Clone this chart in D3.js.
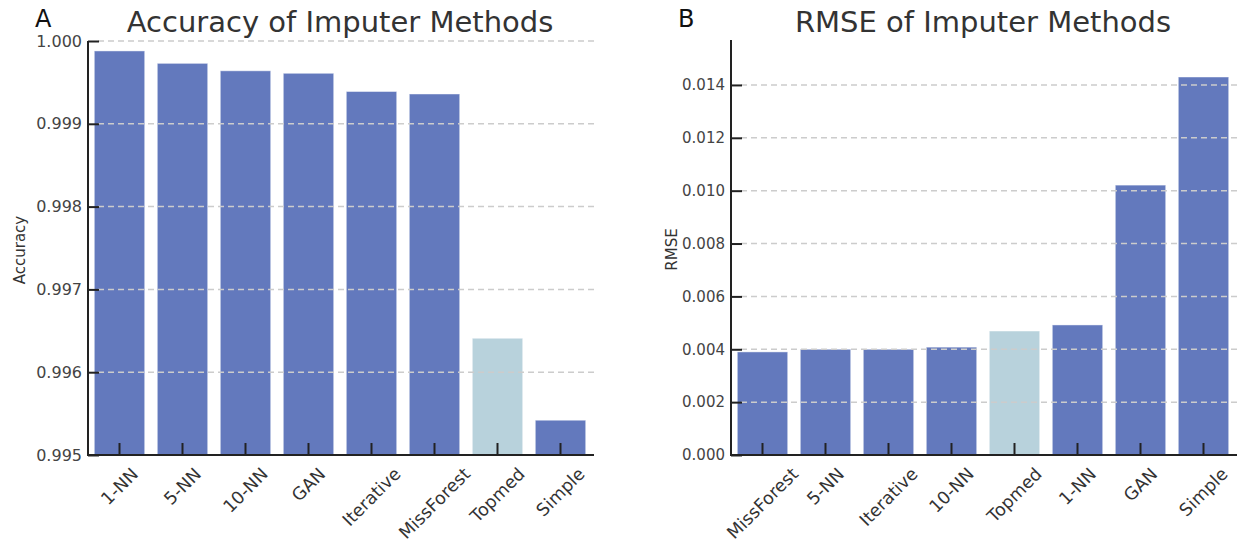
<!DOCTYPE html>
<html><head><meta charset="utf-8">
<script src="https://cdn.jsdelivr.net/npm/d3@7"></script>
<style>
body{margin:0;background:#fff;}
svg{display:block;font-family:"DejaVu Sans",sans-serif;}
</style></head>
<body><svg id="chart" width="1243" height="546"></svg>
<script>
// ---- data ----
const accCategories = ["1-NN","5-NN","10-NN","GAN","Iterative","MissForest","Topmed","Simple"];
const accValues = [0.99988,0.99973,0.99964,0.99961,0.99939,0.99936,0.99641,0.99542];
const accTicks = [0.995,0.996,0.997,0.998,0.999,1.000];

const rmseCategories = ["MissForest","5-NN","Iterative","10-NN","Topmed","1-NN","GAN","Simple"];
const rmseValues = [0.00390,0.00400,0.00400,0.00408,0.00469,0.00492,0.01021,0.01430];
const rmseTicks = [0.000,0.002,0.004,0.006,0.008,0.010,0.012,0.014];

const highlight = "Topmed";
const svg = d3.select("#chart");

function panel(o){
  const g = svg.append("g");
  const x = d3.scaleBand().domain(o.cats).range([o.x0,o.x1]).paddingInner(0.2).paddingOuter(0.1);
  const y = d3.scaleLinear().domain(o.domain).range([o.yb,o.yt]);
  // bars
  g.selectAll("rect.bar").data(o.cats.map((c,i)=>({c,v:o.vals[i]}))).join("rect")
    .attr("x",d=>x(d.c)).attr("width",x.bandwidth())
    .attr("y",d=>y(d.v)).attr("height",d=>y(o.domain[0])-y(d.v))
    .attr("fill",d=>d.c===highlight?"#b8d2dc":"#6379bd")
    .attr("stroke","rgba(255,255,255,0.45)").attr("stroke-width",1);
  // grid
  g.selectAll("line.grid").data(o.ticks.filter(t=>t!==o.domain[0])).join("line")
    .attr("x1",o.x0+10).attr("x2",o.x1+2).attr("y1",d=>y(d)).attr("y2",d=>y(d))
    .attr("stroke","#cccccc").attr("stroke-width",1.5).attr("stroke-dasharray","6,4");
  // y axis
  const ya = d3.axisLeft(y).tickValues(o.ticks).tickFormat(d3.format(o.fmt)).tickSizeInner(-11).tickSizeOuter(0).tickPadding(6);
  const yg = g.append("g").attr("transform",`translate(${o.x0},0)`).call(ya);
  yg.attr("font-size",null).attr("font-family",null);
  yg.select(".domain").attr("stroke","#222").attr("stroke-width",2).attr("d",`M0,${o.yt}V${o.yb}`);
  yg.selectAll(".tick line").attr("stroke","#222").attr("stroke-width",2);
  yg.selectAll(".tick text").attr("fill","#444").style("font-size",o.yfs+"px");
  // x axis
  const xa = d3.axisBottom(x).tickSizeInner(-12).tickSizeOuter(0).tickFormat("");
  const xg = g.append("g").attr("transform",`translate(0,${o.yb})`).call(xa);
  xg.select(".domain").attr("stroke","#222").attr("stroke-width",2).attr("d",`M${o.x0-1},0H${o.x1+2}`);
  xg.selectAll(".tick line").attr("stroke","#222").attr("stroke-width",2);
  // rotated labels, bbox centered on tick
  const fs = 17.5;
  o.cats.forEach(c=>{
    const cx = x(c)+x.bandwidth()/2;
    const t = g.append("text").text(c).style("font-size",fs+"px").attr("fill","#333")
      .attr("text-anchor","middle").attr("dominant-baseline","central");
    const L = t.node().getComputedTextLength();
    const h = (L + fs*0.95)*Math.SQRT1_2;
    const cy = o.yb + 10 + h/2;
    t.attr("transform",`translate(${cx},${cy}) rotate(-45)`);
  });
  // titles
  svg.append("text").text(o.title).attr("x",o.tx).attr("y",32).attr("text-anchor","middle")
    .style("font-size","29px").attr("fill","#333");
  svg.append("text").text(o.letter).attr("x",o.lx).attr("y",27).style("font-size","24px").attr("fill","#111");
  svg.append("text").text(o.ylabel).attr("transform",`translate(${o.ylx},${(o.yt+o.yb)/2+2}) rotate(-90)`)
    .attr("text-anchor","middle").style("font-size","15px").attr("fill","#333");
}

panel({cats:accCategories, vals:accValues, ticks:accTicks, domain:[0.995,1.000], fmt:".3f",
  x0:88, x1:592, yb:455, yt:41, yfs:16, title:"Accuracy of Imputer Methods", tx:340,
  letter:"A", lx:35, ylabel:"Accuracy", ylx:25});
panel({cats:rmseCategories, vals:rmseValues, ticks:rmseTicks, domain:[0,0.0157], fmt:".3f",
  x0:731, x1:1235, yb:455, yt:40, yfs:15, title:"RMSE of Imputer Methods", tx:983,
  letter:"B", lx:678, ylabel:"RMSE", ylx:677});
</script></body></html>
